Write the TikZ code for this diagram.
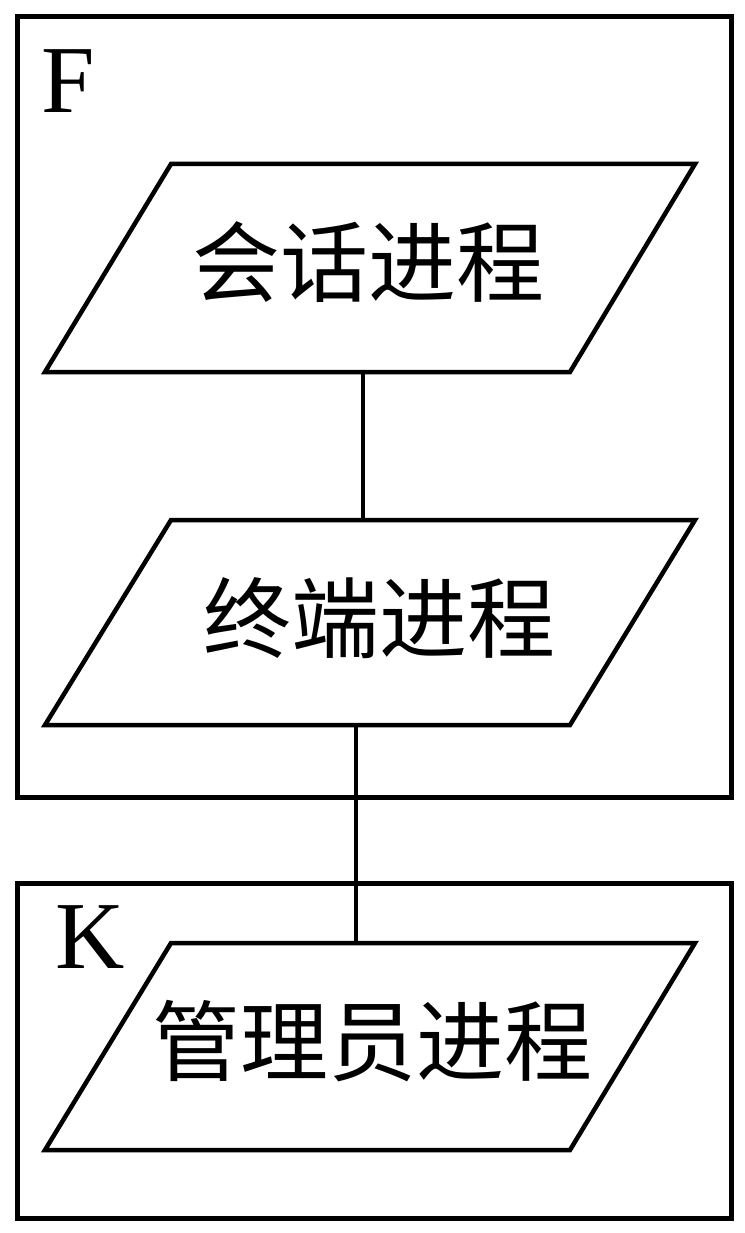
\documentclass[tikz,border=0pt]{standalone}
\usepackage{fontspec}
\setmainfont{Liberation Serif}
\newfontfamily\cjk{Noto Sans CJK SC}
\begin{document}
\begin{tikzpicture}[x=1pt,y=1pt,
  frame/.style={draw=black,line width=5pt,line join=miter,fill=none},
  para/.style={draw=black,line width=4.5pt,line join=miter},
  conn/.style={draw=black,line width=3.2pt},
  cjklabel/.style={inner sep=0pt,font=\cjk\fontsize{88pt}{88pt}\selectfont},
  letter/.style={inner sep=0pt,anchor=base west,font=\fontsize{96pt}{96pt}\selectfont}]
\useasboundingbox[fill=white] (0,0) rectangle (744,-1233);
% outer boxes
\draw[frame] (17,-17) rectangle (731,-797);
\draw[frame] (17,-883) rectangle (731,-1218);
\node[letter] (F) at (41,-113) {F};
\node[letter] (K) at (55,-968) {K};
% parallelograms
\draw[para] (45,-372) coordinate (p1bl) -- (570,-372) coordinate (p1br) -- (695,-164) coordinate (p1tr) -- (171,-164) coordinate (p1tl) -- cycle;
\draw[para] (45,-725) coordinate (p2bl) -- (570,-725) coordinate (p2br) -- (695,-520) coordinate (p2tr) -- (171,-520) coordinate (p2tl) -- cycle;
\draw[para] (45,-1150) coordinate (p3bl) -- (570,-1150) coordinate (p3br) -- (695,-943) coordinate (p3tr) -- (171,-943) coordinate (p3tl) -- cycle;
\node[cjklabel] (t1) at (368,-262) {会话进程};
\node[cjklabel] (t2) at (379,-618) {终端进程};
\node[cjklabel] (t3) at (372,-1041) {管理员进程};
% connectors
\coordinate (c1a) at (363,-372);
\coordinate (c1b) at (363,-520);
\coordinate (c2a) at (356,-725);
\coordinate (c2b) at (356,-943);
\draw[conn] (c1a) -- (c1b);
\draw[conn] (c2a) -- (c2b);
\end{tikzpicture}
\end{document}
